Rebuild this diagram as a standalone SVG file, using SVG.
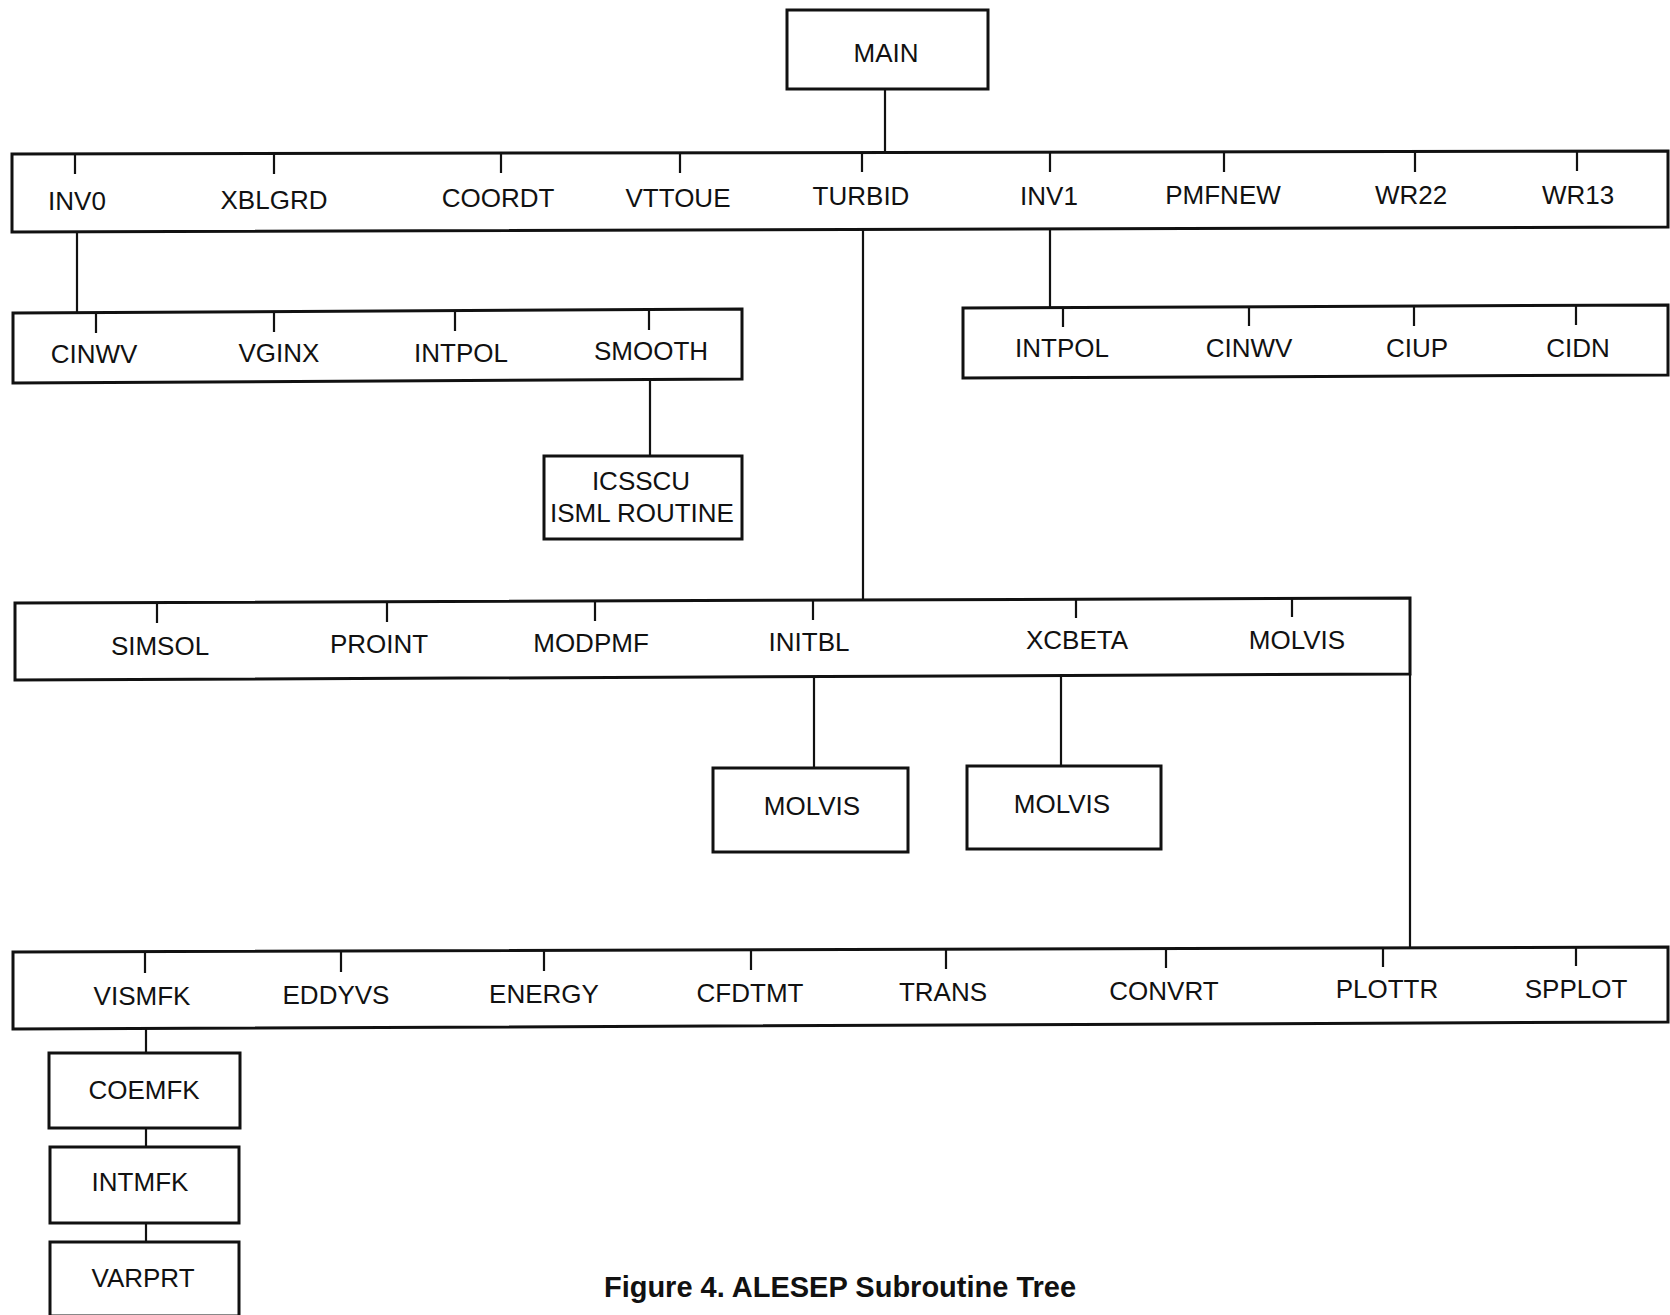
<svg xmlns="http://www.w3.org/2000/svg" width="1670" height="1315" viewBox="0 0 1670 1315">
<style>
.box{fill:#fff;stroke:#111;stroke-width:3;stroke-linejoin:miter}
.bar{fill:#fff;stroke:#111;stroke-width:3}
.ln{stroke:#111;stroke-width:2.2;fill:none}
.tk{stroke:#111;stroke-width:2.2;fill:none}
text{font-family:"Liberation Sans",Arial,sans-serif;font-size:26px;fill:#111;text-anchor:middle}
.cap{font-weight:bold;font-size:29px}
</style>
<rect width="1670" height="1315" fill="#fff"/>
<g id="connectors">
<path class="ln" d="M885 89V152"/>
<path class="ln" d="M77 232V312"/>
<path class="ln" d="M650 380V456"/>
<path class="ln" d="M1050 228V307"/>
<path class="ln" d="M863 229V600"/>
<path class="ln" d="M814 678V768"/>
<path class="ln" d="M1061 675V766"/>
<path class="ln" d="M1410 674V948"/>
<path class="ln" d="M146 1028V1053"/>
<path class="ln" d="M146 1128V1147"/>
<path class="ln" d="M146 1223V1242"/>
</g>
<g id="main"><rect class="box" x="787" y="10" width="201" height="79"/><text x="886" y="62">MAIN</text></g>
<g id="level1">
<path class="bar" d="M12 154L1668 151L1668 227L12 232Z"/>
<g id="l1-ticks"><path class="tk" d="M75 154V174M274 154V174M501 153V173M680 153V173M862 153V172M1050 152V172M1224 152V172M1415 152V172M1577 151V171"/></g>
<g id="inv0"><text x="77" y="210">INV0</text></g>
<g id="xblgrd"><text x="274" y="209">XBLGRD</text></g>
<g id="coordt"><text x="498" y="207">COORDT</text></g>
<g id="vttoue"><text x="678" y="207">VTTOUE</text></g>
<g id="turbid"><text x="861" y="205">TURBID</text></g>
<g id="inv1"><text x="1049" y="205">INV1</text></g>
<g id="pmfnew"><text x="1223" y="204">PMFNEW</text></g>
<g id="wr22"><text x="1411" y="204">WR22</text></g>
<g id="wr13"><text x="1578" y="204">WR13</text></g>
</g>
<g id="inv0-children">
<path class="bar" d="M13 313L742 309L742 379L13 383Z"/>
<path class="tk" d="M96 312V333M274 311V332M455 310V331M649 309V330"/>
<g id="cinwv-a"><text x="94" y="363">CINWV</text></g>
<g id="vginx"><text x="279" y="362">VGINX</text></g>
<g id="intpol-a"><text x="461" y="362">INTPOL</text></g>
<g id="smooth"><text x="651" y="360">SMOOTH</text></g>
</g>
<g id="icsscu"><rect class="box" x="544" y="456" width="198" height="83"/><text x="641" y="490">ICSSCU</text><text x="642" y="522">ISML ROUTINE</text></g>
<g id="inv1-children">
<path class="bar" d="M963 308L1668 305L1668 375L963 378Z"/>
<path class="tk" d="M1063 307V327M1249 307V326M1414 306V326M1576 306V325"/>
<g id="intpol-b"><text x="1062" y="357">INTPOL</text></g>
<g id="cinwv-b"><text x="1249" y="357">CINWV</text></g>
<g id="ciup"><text x="1417" y="357">CIUP</text></g>
<g id="cidn"><text x="1578" y="357">CIDN</text></g>
</g>
<g id="turbid-children">
<path class="bar" d="M15 603L1410 598L1410 674L15 680Z"/>
<path class="tk" d="M157 603V623M387 602V622M595 601V621M813 601V620M1076 600V618M1292 599V617"/>
<g id="simsol"><text x="160" y="655">SIMSOL</text></g>
<g id="proint"><text x="379" y="653">PROINT</text></g>
<g id="modpmf"><text x="591" y="652">MODPMF</text></g>
<g id="initbl"><text x="809" y="651">INITBL</text></g>
<g id="xcbeta"><text x="1077" y="649">XCBETA</text></g>
<g id="molvis-a"><text x="1297" y="649">MOLVIS</text></g>
</g>
<g id="molvis-b"><rect class="box" x="713" y="768" width="195" height="84"/><text x="812" y="815">MOLVIS</text></g>
<g id="molvis-c"><rect class="box" x="967" y="766" width="194" height="83"/><text x="1062" y="813">MOLVIS</text></g>
<g id="level3">
<path class="bar" d="M13 952L1668 947L1668 1022L13 1029Z"/>
<path class="tk" d="M145 952V973M341 951V972M544 951V971M751 950V970M946 949V969M1166 949V968M1383 948V967M1576 947V966"/>
<g id="vismfk"><text x="142" y="1005">VISMFK</text></g>
<g id="eddyvs"><text x="336" y="1004">EDDYVS</text></g>
<g id="energy"><text x="544" y="1003">ENERGY</text></g>
<g id="cfdtmt"><text x="750" y="1002">CFDTMT</text></g>
<g id="trans"><text x="943" y="1001">TRANS</text></g>
<g id="convrt"><text x="1164" y="1000">CONVRT</text></g>
<g id="plottr"><text x="1387" y="998">PLOTTR</text></g>
<g id="spplot"><text x="1576" y="998">SPPLOT</text></g>
</g>
<g id="coemfk"><rect class="box" x="49" y="1053" width="191" height="75"/><text x="144" y="1099">COEMFK</text></g>
<g id="intmfk"><rect class="box" x="50" y="1147" width="189" height="76"/><text x="140" y="1191">INTMFK</text></g>
<g id="varprt"><rect class="box" x="50" y="1242" width="189" height="74"/><text x="143" y="1287">VARPRT</text></g>
<text class="cap" x="840" y="1297">Figure 4. ALESEP Subroutine Tree</text>
</svg>
